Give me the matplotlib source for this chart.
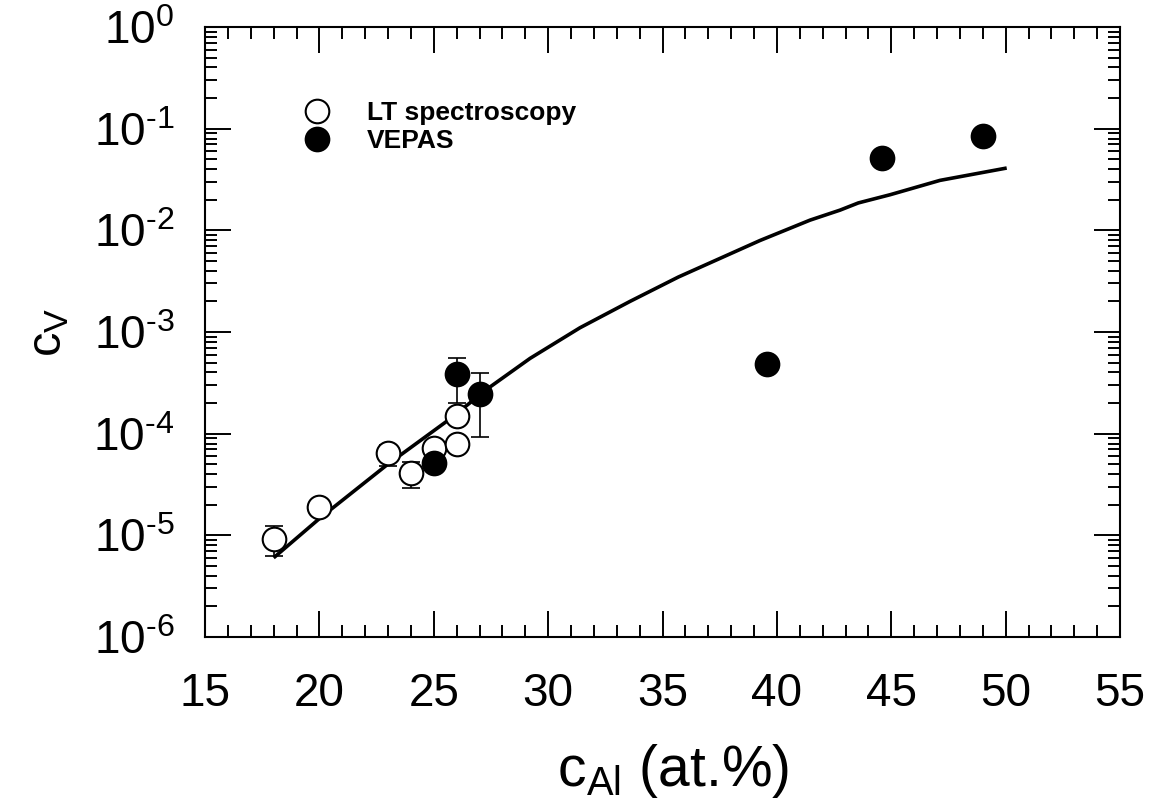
import matplotlib
matplotlib.use("Agg")
import matplotlib.pyplot as plt
from matplotlib.ticker import MultipleLocator, LogLocator, FixedLocator, FixedFormatter, NullFormatter

plt.rcParams["font.family"] = ["Liberation Sans", "DejaVu Sans"]
plt.rcParams["mathtext.fontset"] = "custom"
plt.rcParams["mathtext.rm"] = "Liberation Sans"
plt.rcParams["mathtext.it"] = "Liberation Sans:italic"

# LT spectroscopy (open circles)
lt_x = [18, 20, 23, 24, 25, 26, 26]
lt_y = [9.3e-6, 1.89e-5, 6.4e-5, 4.1e-5, 7.2e-5, 1.49e-4, 8.0e-5]
lt_lo = [6.2e-6, 1.89e-5, 4.8e-5, 2.9e-5, 7.2e-5, 1.49e-4, 8.0e-5]
lt_hi = [1.23e-5, 1.89e-5, 7.8e-5, 5.3e-5, 7.2e-5, 1.49e-4, 8.0e-5]

# VEPAS (filled circles)
ve_x = [25, 26, 27, 39.55, 44.6, 49.0]
ve_y = [5.2e-5, 3.84e-4, 2.44e-4, 4.85e-4, 0.051, 0.0847]
ve_lo = [4.3e-5, 2.0e-4, 9.3e-5, 4.85e-4, 0.051, 0.078]
ve_hi = [6.0e-5, 5.6e-4, 3.93e-4, 4.85e-4, 0.051, 0.0847]

# model curve
fit_x = [18.06, 20.03, 22.94, 25.56, 27.46, 29.21, 31.39, 33.58, 35.69, 37.08,
         39.26, 41.45, 42.76, 43.56, 44.95, 47.13, 49.97]
fit_y = [6.17e-6, 1.48e-5, 4.90e-5, 1.32e-4, 2.88e-4, 5.50e-4, 1.10e-3, 2.00e-3,
         3.47e-3, 4.79e-3, 7.94e-3, 1.26e-2, 1.58e-2, 1.86e-2, 2.24e-2, 3.10e-2, 4.07e-2]

y_ticks = [1e-6, 1e-5, 1e-4, 1e-3, 1e-2, 1e-1, 1e0]
y_labels = [r"$\mathrm{10^{\text{-}6}}$", r"$\mathrm{10^{\text{-}5}}$", r"$\mathrm{10^{\text{-}4}}$",
            r"$\mathrm{10^{\text{-}3}}$", r"$\mathrm{10^{\text{-}2}}$", r"$\mathrm{10^{\text{-}1}}$",
            r"$\mathrm{10^{0}}$"]


def err(y, lo, hi):
    return [[v - l for v, l in zip(y, lo)], [h - v for v, h in zip(y, hi)]]


fig = plt.figure(figsize=(11.5, 7.98), dpi=100)
ax = fig.add_axes([205 / 1150, 1 - 637 / 798, 915 / 1150, 610 / 798])

ax.plot(fit_x, fit_y, color="black", lw=2.6, zorder=2, solid_joinstyle="round")

ax.errorbar(lt_x, lt_y, yerr=err(lt_y, lt_lo, lt_hi), fmt="none", ecolor="black",
            elinewidth=1.2, capsize=6.5, capthick=1.2, zorder=3)
ax.errorbar(ve_x, ve_y, yerr=err(ve_y, ve_lo, ve_hi), fmt="none", ecolor="black",
            elinewidth=1.2, capsize=6.5, capthick=1.2, zorder=3)

ax.plot(lt_x, lt_y, "o", ms=17, mfc="white", mec="black", mew=1.5, ls="none",
        label="LT spectroscopy", zorder=4)
ax.plot(ve_x, ve_y, "o", ms=17, mfc="black", mec="black", mew=1.5, ls="none",
        label="VEPAS", zorder=5)

ax.set_yscale("log")
ax.set_xlim(15, 55)
ax.set_ylim(1e-6, 1e0)

ax.xaxis.set_major_locator(MultipleLocator(5))
ax.xaxis.set_minor_locator(MultipleLocator(1))
ax.yaxis.set_major_locator(FixedLocator(y_ticks))
ax.yaxis.set_major_formatter(FixedFormatter(y_labels))
ax.yaxis.set_minor_locator(LogLocator(base=10, subs=range(2, 10), numticks=20))
ax.yaxis.set_minor_formatter(NullFormatter())

ax.tick_params(which="both", direction="in", top=True, right=True, width=1.4, color="black")
ax.tick_params(which="major", length=19, labelsize=33)
ax.tick_params(axis="x", which="major", pad=25)
ax.tick_params(axis="y", which="major", pad=22)
ax.tick_params(which="minor", length=8.6)
for s in ax.spines.values():
    s.set_linewidth(1.5)

ax.set_xlabel(r"$\mathrm{c_{Al}}$ (at.%)", fontsize=41)
ax.xaxis.set_label_coords(0.512, -0.172)
ax.set_ylabel(r"$\mathrm{c_V}$", fontsize=35, labelpad=16)

ax.legend(loc="upper left", bbox_to_anchor=(0.1077, 0.879), frameon=False,
          prop={"weight": "bold", "size": 19}, handlelength=1.0, handletextpad=1.4,
          labelspacing=0.17, borderpad=0, borderaxespad=0, markerscale=1.0)

fig.savefig("out.png", dpi=100)
